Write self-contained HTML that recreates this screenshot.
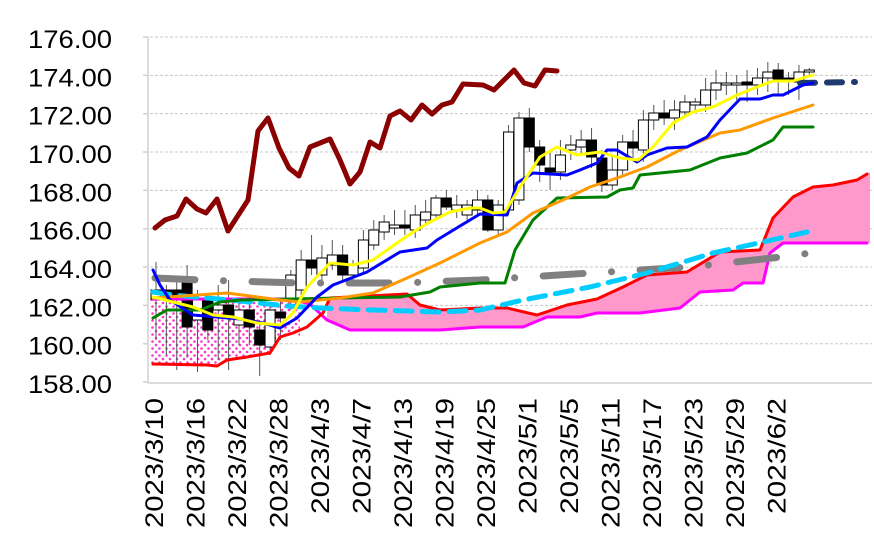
<!DOCTYPE html><html><head><meta charset="utf-8"><style>
html,body{margin:0;padding:0;background:#fff;width:874px;height:559px;overflow:hidden}
svg text{font-family:"Liberation Sans",sans-serif;fill:#000}
</style></head><body>
<svg id="s" width="874" height="559" viewBox="0 0 874 559" xmlns="http://www.w3.org/2000/svg">
<defs><pattern id="dots" width="7" height="7" patternUnits="userSpaceOnUse"><rect width="7" height="7" fill="#fff"/><circle cx="2" cy="2" r="1.3" fill="#ff33cc"/><circle cx="5.5" cy="5.5" r="1.3" fill="#ff33cc"/></pattern></defs>
<g id="grid" stroke="#c8c8c8" stroke-dasharray="3,2" stroke-width="1"></g>
<line x1="148" y1="37" x2="148" y2="383" stroke="#d0d0d0" stroke-width="1.5"/>
<line x1="148" y1="383" x2="872" y2="383" stroke="#d0d0d0" stroke-width="1.5"/>
<g id="ylab" font-size="25" text-anchor="end"></g>
<g id="xlab" font-size="25" text-anchor="end"></g>
<polygon points="150,299 290,299 300,302 300,336 293,333 280,337 270,353 247,357 227,360 217,366 207,365 153,364 150,364" fill="url(#dots)"/>
<polygon fill="#ff99cc" points="327,313 330,298 407,294 420,305 440,310 480,308 507,308 537,315 567,305 597,299 623,287 647,275 687,272 720,252 760,250 773,218 793,197 813,187 833,185 857,180 870,172 870,243 783,243 770,253 763,283 743,283 733,290 700,292 680,308 640,313 597,313 580,317 547,317 523,327 480,327 440,330 350,330 327,320"/>
<g id="candles"></g>
<g fill="none" stroke-linejoin="round" stroke-linecap="round">
<polyline stroke="#ff00ff" stroke-width="3" points="153,299 290,299 310,304 327,320 350,330 440,330 480,327 523,327 547,317 580,317 597,313 640,313 680,308 700,292 733,290 743,283 763,283 770,253 783,243 867,243"/>
<polyline stroke="#ff0000" stroke-width="3" points="153,364 207,365 217,366 227,360 247,357 270,353 280,337 293,333 307,327 323,313 330,298 407,294 420,305 440,310 480,308 507,308 537,315 567,305 597,299 623,287 647,275 687,272 720,252 760,250 773,218 793,197 813,187 833,185 857,180 867,174"/>
<polyline stroke="#808080" stroke-width="7" stroke-dasharray="40,28.5,0.1,28.5" points="155,278 200,280 300,283 400,283 480,280 590,273 690,267 790,256 810,253"/>
<polyline stroke="#00ccff" stroke-width="5" stroke-dasharray="17,10" points="153,292 173,295 207,298 240,301 287,306 320,308 373,310 440,312 480,310 523,300 590,287 647,273 713,253 763,242 807,232"/>
<polyline stroke="#1f3a6e" stroke-width="6" stroke-dasharray="15,12" points="800,83 855,82"/>
<polyline stroke="#008000" stroke-width="3" points="153,318 167,310 200,310 220,302 240,300 340,298 400,297 430,292 440,287 480,283 505,283 515,250 533,220 557,198 607,197 620,190 633,188 640,175 690,170 720,158 747,153 773,140 783,127 813,127"/>
<polyline stroke="#ff9900" stroke-width="3" points="153,298 227,293 280,300 300,302 340,298 373,293 407,278 440,263 480,243 507,232 533,213 563,200 590,187 620,177 647,167 680,150 720,133 740,130 773,118 813,105"/>
<polyline stroke="#0000ff" stroke-width="3" points="153,270 160,285 170,300 193,315 217,317 240,319 263,323 280,328 297,318 317,297 333,285 367,272 400,252 427,248 437,240 460,226 480,214 507,215 517,183 533,173 567,175 580,170 597,163 607,150 617,150 637,162 647,155 667,148 687,147 707,137 720,120 740,99 760,99 773,95 783,95 803,85 813,83"/>
<polyline stroke="#ffff00" stroke-width="3" points="153,297 173,302 193,307 213,315 233,317 257,323 280,325 293,313 307,287 330,263 353,265 373,260 397,243 413,232 430,222 450,212 470,208 480,208 493,213 505,212 520,187 540,157 557,147 577,155 600,152 620,158 638,160 653,147 673,123 693,112 713,107 737,95 757,87 773,81 793,81 813,75"/>
<polyline stroke="#8b0000" stroke-width="5" points="155,228 165,220 177,216 186,199 197,209 206,213 217,199 228,231 248,200 258,131 268,118 279,148 289,168 299,176 310,147 330,139 340,160 350,184 360,172 370,142 380,148 390,116 400,111 411,120 422,105 432,114 442,105 452,102 463,84 483,85 494,90 504,80 514,70 524,83 535,86 545,70 557,71"/>
</g>
</svg>
<script>
var NS="http://www.w3.org/2000/svg",g=document.getElementById('grid'),yl=document.getElementById('ylab'),xl=document.getElementById('xlab');
function el(t,a,p){var e=document.createElementNS(NS,t);for(var k in a)e.setAttribute(k,a[k]);p.appendChild(e);return e;}
for(var v=158;v<=176;v+=2){var y=37+(176-v)*19.17;if(v>158)el('line',{x1:150,x2:872,y1:y,y2:y},g);el('line',{x1:143,x2:148,y1:y,y2:y,stroke:'#d0d0d0','stroke-width':1.5},g.parentNode);var t=el('text',{x:112,y:y+11,textLength:84,lengthAdjust:'spacingAndGlyphs'},yl);t.textContent=v.toFixed(2);}
var labs=["2023/3/10","2023/3/16","2023/3/22","2023/3/28","2023/4/3","2023/4/7","2023/4/13","2023/4/19","2023/4/25","2023/5/1","2023/5/5","2023/5/11","2023/5/17","2023/5/23","2023/5/29","2023/6/2"];
labs.forEach(function(s,i){var x=154+41.5*i+9;var L=s.length>=9?130:(s.length==8?116:102);var t=el('text',{x:0,y:0,transform:'translate('+x+',398) rotate(-90)',textLength:L,lengthAdjust:'spacingAndGlyphs'},xl);t.textContent=s;});
var c=[[300,290,262,340],[290,295,285,355],[290,300,280,370],[283,327,265,358],[320,300,290,372],[300,330,295,340],[310,305,285,360],[305,315,280,370],[325,310,300,345],[310,327,295,345],[330,345,320,376],[347,310,305,355],[312,318,300,340],[300,275,270,310],[290,260,250,295],[260,268,235,275],[275,258,245,280],[265,255,240,270],[255,275,245,282],[275,265,260,285],[268,240,230,272],[245,230,220,250],[232,222,215,240],[228,225,210,235],[225,228,210,235],[230,215,205,238],[220,212,200,225],[215,198,195,220],[198,207,190,210],[210,205,195,218],[215,205,200,220],[210,200,190,215],[200,230,195,232],[230,205,200,236],[210,132,125,215],[200,118,112,205],[118,147,108,152],[147,165,140,182],[168,172,150,190],[172,155,140,180],[150,145,135,160],[147,140,130,153],[140,157,128,168],[158,185,150,192],[185,170,155,190],[170,142,135,175],[142,148,130,160],[150,120,110,162],[120,113,105,130],[113,118,100,125],[118,110,100,130],[112,102,95,118],[105,102,98,112],[105,90,78,112],[90,83,70,100],[85,83,72,95],[85,83,75,100],[82,85,70,102],[85,78,68,95],[78,72,62,92],[70,80,63,95],[78,82,72,95],[82,72,65,100],[72,70,68,75]];
var cg=document.getElementById('candles');
c.forEach(function(d,i){var x=156+10.37*i;el('line',{x1:x,x2:x,y1:d[2],y2:d[3],stroke:'#555','stroke-width':1},cg);var top=Math.min(d[0],d[1]),h=Math.max(Math.abs(d[1]-d[0]),1.5);el('rect',{x:x-5,y:top,width:10,height:h,fill:d[1]>d[0]?'#000':'#fff',stroke:'#000','stroke-width':1},cg);});
</script>
</body></html>
